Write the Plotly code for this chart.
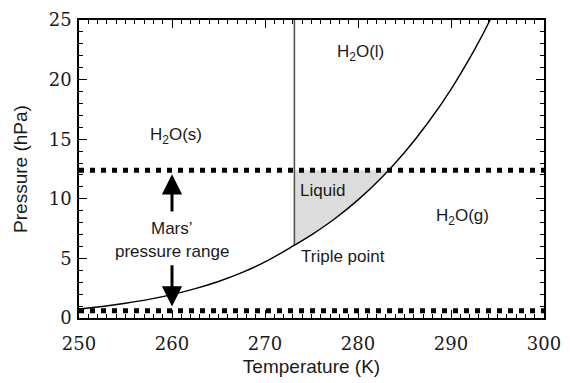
import numpy as np
import plotly.graph_objects as go

# Saturation vapour pressure curve (ice below the triple point, water above)
curve_T = [250.0, 252.5, 255.0, 257.5, 260.0, 262.5, 265.0, 267.5, 270.0,
           273.16, 275.0, 277.5, 280.0, 282.5, 285.0, 287.5, 290.0, 292.5, 294.2, 295.0]
curve_P = [0.76, 0.97, 1.24, 1.56, 1.96, 2.46, 3.06, 3.80, 4.70,
           6.11, 6.98, 8.33, 9.91, 11.75, 13.89, 16.36, 19.19, 22.47, 25.0, 26.4]

triple_T = 273.16
triple_P = 6.11
melt_top_P = 25.0

# Mars surface pressure range (hPa)
mars_low = 0.6
mars_high = 12.4

# Arrow ends (tail, tip) for the Mars range marker
arrow_T = 260.0
up_arrow = (8.8, 12.06)
down_arrow = (4.55, 0.96)

x_ticks = [250, 260, 270, 280, 290, 300]
y_ticks = [0, 5, 10, 15, 20, 25]

sans = "'Liberation Sans', Arial, sans-serif"
serif = "'DejaVu Serif', 'Liberation Serif', serif"
ink = "#1a1a1a"

fig = go.Figure()

# Liquid region between the melting line, the vapour curve and the top of Mars' range
cT = np.array(curve_T)
cP = np.array(curve_P)
t_cross = float(np.interp(mars_high, cP, cT))
sel = (cT >= triple_T) & (cT < t_cross)
liq_x = list(cT[sel]) + [t_cross, triple_T, triple_T]
liq_y = list(cP[sel]) + [mars_high, mars_high, triple_P]
fig.add_trace(go.Scatter(x=liq_x, y=liq_y, mode="lines", fill="toself",
                         fillcolor="#dcdcdc", line=dict(width=0),
                         hoverinfo="skip", showlegend=False))

# Dotted lines bounding Mars' pressure range
for p in (mars_high, mars_low):
    fig.add_trace(go.Scatter(x=[250, 300], y=[p, p], mode="lines",
                             line=dict(color="black", width=5, dash="5px,6px"),
                             showlegend=False, hoverinfo="skip"))

# Melting line
fig.add_trace(go.Scatter(x=[triple_T, triple_T], y=[triple_P, melt_top_P], mode="lines",
                         line=dict(color="#555555", width=1.6),
                         showlegend=False, hoverinfo="skip"))

# Vapour pressure curve
fig.add_trace(go.Scatter(x=curve_T, y=curve_P, mode="lines", line_shape="spline",
                         line=dict(color="black", width=1.4),
                         showlegend=False, hoverinfo="skip"))

# Arrows
for tail, tip in (up_arrow, down_arrow):
    fig.add_annotation(x=arrow_T, y=tip, ax=arrow_T, ay=tail, xref="x", yref="y",
                       axref="x", ayref="y", text="", showarrow=True,
                       arrowhead=2, arrowwidth=3, arrowsize=1.35, arrowcolor="black")

labels = [
    ("H<sub>2</sub>O(s)", 260.4, 15.3),
    ("H<sub>2</sub>O(l)", 280.3, 22.2),
    ("H<sub>2</sub>O(g)", 291.2, 8.5),
    ("Liquid", 276.2, 10.7),
    ("Triple point", 278.4, 5.2),
    ("Mars’", 260.0, 7.5),
    ("pressure range", 260.0, 5.6),
]
for txt, x, y in labels:
    fig.add_annotation(x=x, y=y, xref="x", yref="y", text=txt, showarrow=False,
                       font=dict(family=sans, size=17, color=ink))

axis_common = dict(
    showline=True, linecolor="black", linewidth=1.5, mirror="ticks",
    ticks="inside", ticklen=8, tickwidth=1.2, tickcolor="black",
    showgrid=False, zeroline=False,
    tickfont=dict(family=serif, size=18, color=ink),
    minor=dict(ticks="inside", ticklen=4, tickwidth=1, tickcolor="black", dtick=1),
)

fig.update_xaxes(range=[250, 300], tickvals=x_ticks, ticklabelstandoff=9,
                 title=dict(text="Temperature (K)", font=dict(family=sans, size=19, color=ink),
                            standoff=6),
                 **axis_common)
fig.update_yaxes(range=[0, 25], tickvals=y_ticks, ticklabelstandoff=2,
                 title=dict(text="Pressure (hPa)", font=dict(family=sans, size=19, color=ink),
                            standoff=16),
                 **axis_common)

fig.update_layout(
    width=570, height=383,
    margin=dict(l=79, r=26, t=9, b=61),
    paper_bgcolor="white", plot_bgcolor="white",
)

fig.write_html("out.html")
